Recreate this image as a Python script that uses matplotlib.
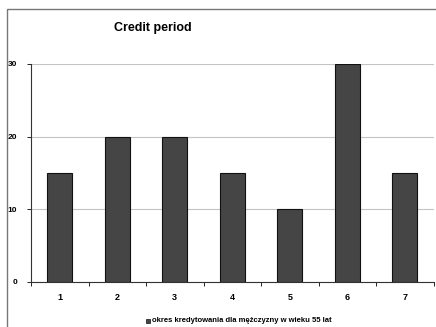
import matplotlib
matplotlib.use("Agg")
import matplotlib.pyplot as plt
from matplotlib.patches import Rectangle
import numpy as np

categories = ["1", "2", "3", "4", "5", "6", "7"]
values = [15, 20, 20, 15, 10, 30, 15]
yticks = [0, 10, 20, 30]
series_name = "okres kredytowania dla mężczyzny w wieku 55 lat"
title = "Credit period"

plt.rcParams['font.family'] = ['Liberation Sans', 'DejaVu Sans']

W, H = 436, 327
fig = plt.figure(figsize=(W/100, H/100), dpi=100)
fig.patch.set_facecolor("white")

# outer chart frame
fig.patches.append(Rectangle((7/W, -0.1), 1.2, 1 - 9/H + 0.1, transform=fig.transFigure,
                             fill=False, edgecolor="#777777", linewidth=1.0))

ax = fig.add_axes([31/W, 1 - 282/H, (433.5-31)/W, (282-64)/H])
x = np.arange(len(categories))
ax.bar(x, values, width=0.43, color="#454545", edgecolor="#111111", linewidth=0.8, zorder=3)
ax.set_xlim(-0.5, len(categories) - 0.5)
ax.set_ylim(0, 30)
ax.set_yticks(yticks)
ax.set_yticklabels([str(v) for v in yticks], fontsize=6, fontweight="bold")
ax.set_xticks(x)
ax.set_xticklabels(categories, fontsize=6.5, fontweight="bold")
ax.tick_params(axis="x", length=0, pad=8)
ax.set_xticks(np.arange(-0.5, len(categories)), minor=True)
ax.tick_params(axis="x", which="minor", length=3, width=0.6, direction="out")
ax.tick_params(axis="y", length=3, width=0.6, direction="out", pad=7)
ax.grid(axis="y", color="#c4c4c4", linewidth=0.8, zorder=0)
for s in ["top", "right"]:
    ax.spines[s].set_visible(False)
ax.spines["left"].set_color("#333333")
ax.spines["bottom"].set_color("#333333")
ax.spines["left"].set_linewidth(0.8)
ax.spines["bottom"].set_linewidth(0.8)

fig.text(153/W, 1 - 28/H, title, ha="center", va="center", fontsize=9,
         fontweight="bold")

# legend
fig.patches.append(Rectangle((146/W, 1 - 323/H), 4/W, 4/H, transform=fig.transFigure,
                             facecolor="#454545", edgecolor="#111111", linewidth=0.5))
fig.text(152/W, 1 - 321/H, series_name, ha="left", va="center", fontsize=5.5,
         fontweight="bold")

fig.savefig("out.png", dpi=100)
